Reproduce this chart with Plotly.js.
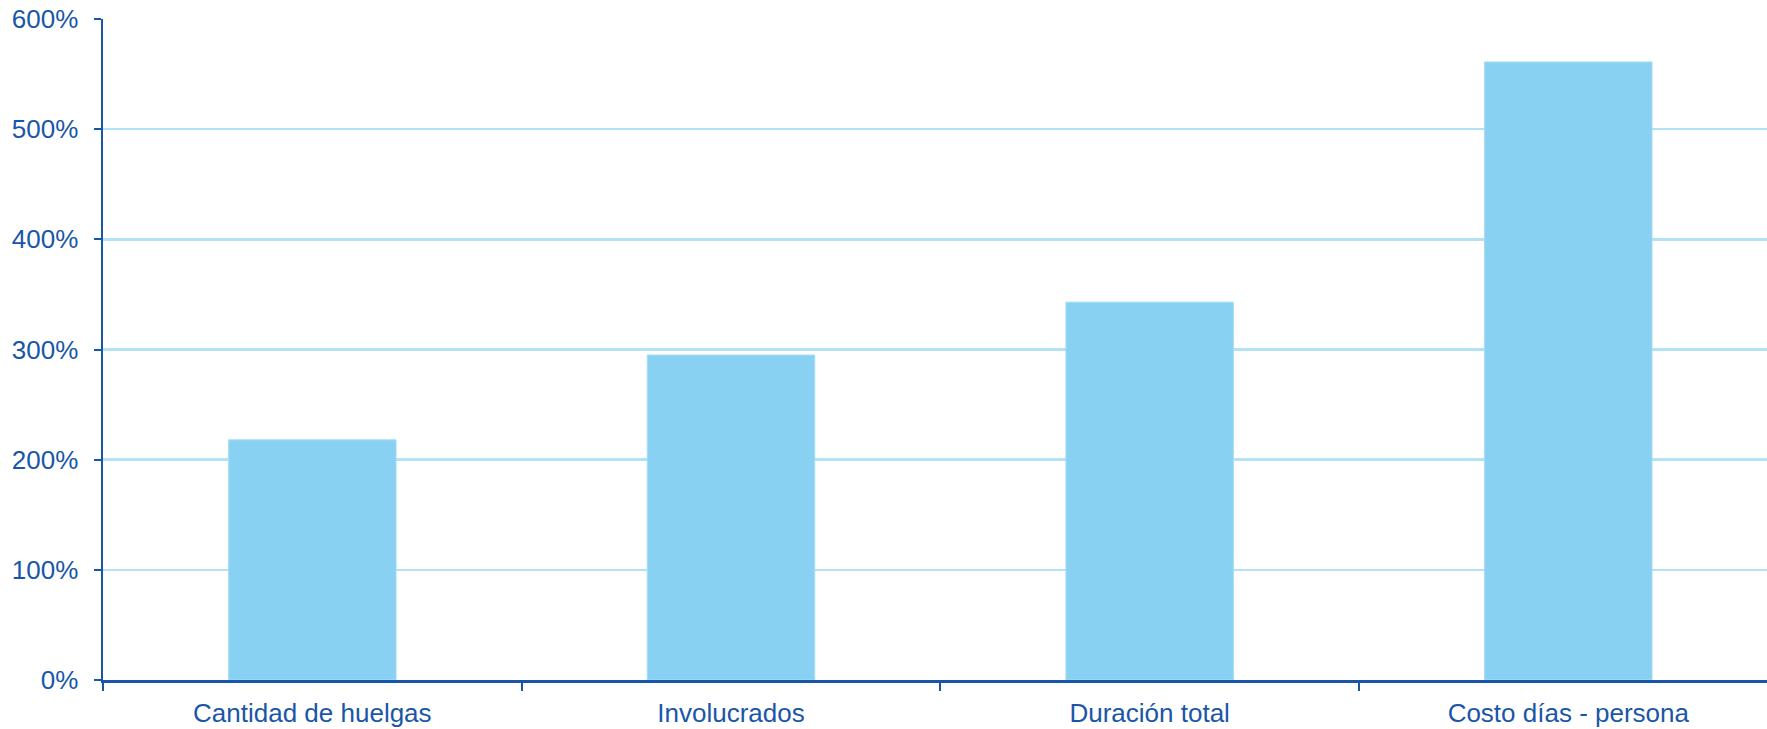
<!DOCTYPE html>
<html>
<head>
<meta charset="utf-8">
<script src="https://cdn.plot.ly/plotly-3.0.1.min.js"></script>
<style>
html, body { margin: 0; padding: 0; background: #ffffff; }
#chart { width: 1767px; height: 729px; }
</style>
</head>
<body>
<div id="chart"></div>
<script>
const categories = ["Cantidad de huelgas", "Involucrados", "Duración total", "Costo días - persona"];
const values = [218, 295, 343, 561];
const yTickValues = [0, 100, 200, 300, 400, 500, 600];
const yTickLabels = ["0%", "100%", "200%", "300%", "400%", "500%", "600%"];

const textColor = "#1a56a8";
const axisColor = "#1a56a8";
const gridColor = "#b3e2f7";
const barColor = "#89d1f2";

const trace = {
  type: "bar",
  x: categories,
  y: values,
  width: 0.4,
  marker: { color: barColor, line: { color: "#a6dcf5", width: 1 } },
  hoverinfo: "skip"
};

const layout = {
  width: 1767,
  height: 729,
  margin: { l: 103, r: 0, t: 19.3, b: 49.3, pad: 0 },
  paper_bgcolor: "#ffffff",
  plot_bgcolor: "#ffffff",
  showlegend: false,
  bargap: 0.6,
  font: { family: "Liberation Sans, Arial, sans-serif", size: 25, color: textColor },
  xaxis: {
    type: "category",
    range: [-0.5, 3.4746],
    tickson: "boundaries",
    ticks: "outside",
    ticklen: 8,
    tickwidth: 2,
    tickcolor: axisColor,
    showline: true,
    linecolor: axisColor,
    linewidth: 2.5,
    showgrid: false,
    zeroline: false,
    ticklabelstandoff: 8,
    tickfont: { family: "Liberation Sans, Arial, sans-serif", size: 26, color: textColor },
    fixedrange: true
  },
  yaxis: {
    range: [0, 600],
    tickvals: yTickValues,
    ticktext: yTickLabels,
    ticks: "outside",
    ticklen: 7,
    tickwidth: 2,
    tickcolor: axisColor,
    showline: true,
    linecolor: axisColor,
    linewidth: 2.5,
    showgrid: true,
    gridcolor: gridColor,
    gridwidth: 2.5,
    zeroline: false,
    ticklabelstandoff: 10,
    tickfont: { family: "Liberation Sans, Arial, sans-serif", size: 26, color: textColor },
    fixedrange: true
  }
};

Plotly.newPlot("chart", [trace], layout, { displayModeBar: false, staticPlot: true });
</script>
</body>
</html>
